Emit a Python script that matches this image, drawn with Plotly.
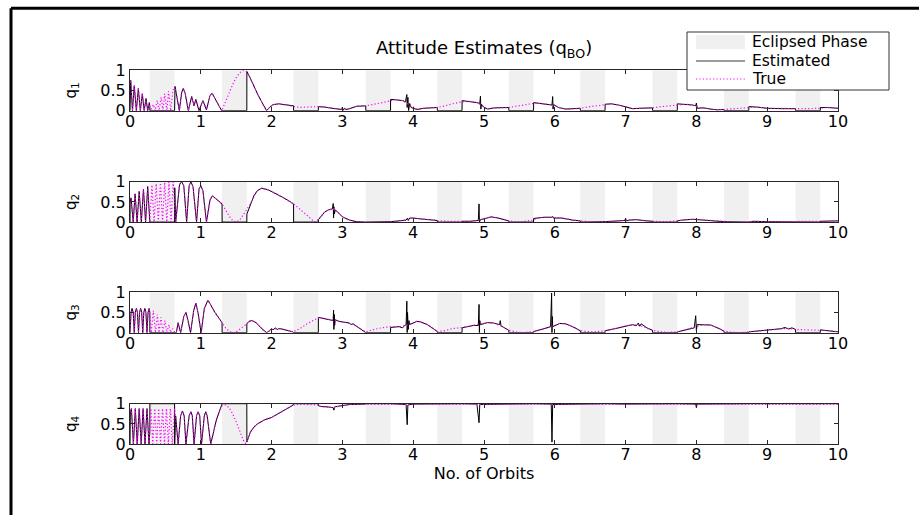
import plotly.graph_objects as go

# ---------------- data ----------------
eclipse_start = [0.28, 1.30, 2.31, 3.33, 4.34, 5.35, 6.36, 7.38, 8.39, 9.40]
eclipse_end = [0.63, 1.65, 2.66, 3.68, 4.69, 5.70, 6.71, 7.73, 8.74, 9.75]
x_ticks = [0, 1, 2, 3, 4, 5, 6, 7, 8, 9, 10]
y_ticks = [0, 0.5, 1]
y_labels = ["q<sub>1</sub>", "q<sub>2</sub>", "q<sub>3</sub>", "q<sub>4</sub>"]

q1_true = [(0.0,0.70),(0.01,0.75),(0.035,0.0),(0.06,0.62),(0.09,0.0),(0.118,0.55),(0.146,0.0),(0.174,0.42),(0.2,0.0),(0.226,0.3),(0.25,0.0),(0.273,0.2),(0.29,0.0),
    (0.33,0.15),(0.355,0.0),(0.385,0.25),(0.41,0.0),(0.44,0.33),(0.465,0.0),(0.49,0.42),(0.52,0.0),(0.545,0.48),(0.575,0.0),(0.605,0.5),(0.636,0.6),(0.697,0.0),
    (0.73,0.45),(0.753,0.55),(0.78,0.42),(0.824,0.0),(0.871,0.35),(0.905,0.12),(0.93,0.28),(0.975,0.0),(1.03,0.25),(1.08,0.02),(1.13,0.38),(1.16,0.43),(1.20,0.3),(1.295,0.0),
    (1.35,0.22),(1.40,0.45),(1.45,0.65),(1.50,0.82),(1.55,0.94),(1.60,1.0),(1.65,0.97),
    (1.70,0.8),(1.75,0.6),(1.80,0.42),(1.85,0.25),(1.90,0.08),(1.93,0.0),(1.97,0.08),(2.02,0.15),(2.10,0.17),(2.20,0.14),(2.31,0.11),
    (2.4,0.08),(2.5,0.09),(2.6,0.1),(2.66,0.1),(2.75,0.09),(2.85,0.06),(2.95,0.04),(3.05,0.04),(3.1,0.05),(3.2,0.11),(3.33,0.12),
    (3.45,0.16),(3.55,0.2),(3.68,0.26),(3.75,0.27),(3.85,0.25),(3.95,0.15),(4.05,0.04),(4.2,0.07),(4.34,0.08),
    (4.45,0.12),(4.55,0.17),(4.69,0.22),(4.8,0.23),(4.9,0.2),(5.0,0.1),(5.05,0.05),(5.15,0.07),(5.35,0.08),
    (5.45,0.11),(5.55,0.14),(5.70,0.18),(5.8,0.18),(5.9,0.16),(6.0,0.12),(6.1,0.06),(6.2,0.04),(6.36,0.06),
    (6.5,0.1),(6.71,0.15),(6.8,0.17),(6.9,0.14),(7.0,0.09),(7.1,0.05),(7.2,0.06),(7.38,0.07),
    (7.5,0.1),(7.73,0.15),(7.85,0.16),(7.95,0.14),(8.05,0.08),(8.2,0.04),(8.3,0.02),(8.39,0.03),
    (8.55,0.05),(8.74,0.08),(8.85,0.09),(9.0,0.06),(9.2,0.05),(9.4,0.05),(9.55,0.05),(9.75,0.06),(9.85,0.08),(10.0,0.06)]

q1_est = [(0.0,0.0),(0.005,0.72),(0.01,0.75),(0.035,0.0),(0.06,0.62),(0.09,0.0),(0.118,0.55),(0.146,0.0),(0.174,0.42),(0.2,0.0),(0.226,0.3),(0.25,0.0),(0.273,0.2),(0.28,0.1),(0.281,0.0),
    (0.63,0.0),(0.632,0.58),(0.636,0.6),(0.697,0.0),(0.73,0.45),(0.753,0.55),(0.78,0.42),(0.824,0.0),(0.871,0.35),(0.905,0.12),(0.93,0.28),(0.975,0.0),(1.03,0.25),(1.08,0.02),(1.13,0.38),(1.16,0.43),(1.20,0.3),(1.295,0.0),
    (1.65,0.0),(1.651,0.97),(1.70,0.8),(1.75,0.6),(1.80,0.42),(1.85,0.25),(1.90,0.08),(1.93,0.0),(1.97,0.08),(2.02,0.15),(2.10,0.17),(2.20,0.14),(2.31,0.12),(2.311,0.0),
    (2.66,0.0),(2.661,0.1),(2.75,0.09),(2.85,0.06),(2.9,0.05),(2.95,0.04),(2.99,0.03),(3.0,0.09),(3.01,0.01),(3.03,0.06),(3.05,0.03),(3.1,0.05),(3.2,0.11),(3.33,0.12),(3.331,0.0),
    (3.68,0.0),(3.681,0.28),(3.75,0.27),(3.85,0.25),(3.89,0.22),(3.90,0.32),(3.91,0.40),(3.915,0.08),(3.925,0.33),(3.935,0.0),(3.95,0.18),(3.97,0.08),(4.0,0.06),(4.05,0.03),(4.15,0.06),(4.25,0.08),(4.34,0.08),(4.341,0.0),
    (4.69,0.0),(4.691,0.25),(4.8,0.23),(4.9,0.2),(4.94,0.18),(4.95,0.36),(4.955,0.04),(4.965,0.16),(5.0,0.08),(5.05,0.04),(5.15,0.07),(5.35,0.08),(5.351,0.0),
    (5.70,0.0),(5.701,0.2),(5.8,0.18),(5.9,0.16),(5.96,0.14),(5.97,0.35),(5.975,0.04),(5.985,0.15),(6.05,0.08),(6.15,0.04),(6.36,0.06),(6.361,0.0),
    (6.71,0.0),(6.711,0.16),(6.8,0.17),(6.9,0.14),(7.0,0.09),(7.1,0.05),(7.2,0.06),(7.38,0.07),(7.381,0.0),
    (7.73,0.0),(7.731,0.17),(7.85,0.16),(7.95,0.14),(7.99,0.12),(8.0,0.19),(8.01,0.06),(8.1,0.07),(8.2,0.04),(8.3,0.02),(8.39,0.03),(8.391,0.0),
    (8.74,0.0),(8.741,0.1),(8.85,0.09),(9.0,0.06),(9.2,0.05),(9.4,0.05),(9.401,0.0),
    (9.75,0.0),(9.751,0.08),(9.85,0.08),(10.0,0.06)]

q2_true = [(0.0,0.5),(0.015,0.6),(0.045,0.0),(0.072,0.7),(0.1,0.0),(0.13,0.76),(0.16,0.0),(0.19,0.82),(0.22,0.0),(0.25,0.88),(0.28,0.0),
    (0.31,0.92),(0.34,0.0),(0.37,0.95),(0.40,0.0),(0.43,0.97),(0.46,0.0),(0.49,0.98),(0.52,0.0),(0.55,0.99),(0.58,0.0),(0.61,1.0),(0.645,0.0),
    (0.70,0.93),(0.73,1.0),(0.76,0.9),(0.80,0.0),(0.835,0.9),(0.86,1.0),(0.89,0.88),(0.94,0.0),(0.975,0.82),(1.0,0.9),(1.03,0.78),(1.08,0.0),(1.13,0.55),(1.165,0.65),(1.23,0.55),(1.30,0.45),
    (1.35,0.3),(1.40,0.15),(1.45,0.04),(1.50,0.0),(1.55,0.05),(1.60,0.18),(1.65,0.3),
    (1.70,0.45),(1.75,0.65),(1.80,0.78),(1.86,0.84),(1.95,0.8),(2.05,0.72),(2.15,0.62),(2.25,0.52),(2.31,0.45),
    (2.4,0.32),(2.5,0.18),(2.57,0.06),(2.6,0.0),(2.66,0.06),(2.7,0.15),(2.75,0.25),(2.8,0.3),(2.87,0.33),(2.95,0.22),(3.0,0.13),(3.1,0.05),(3.2,0.01),(3.33,0.0),
    (3.5,0.0),(3.68,0.01),(3.8,0.03),(3.9,0.05),(3.95,0.09),(4.0,0.1),(4.1,0.08),(4.2,0.06),(4.34,0.04),
    (4.5,0.02),(4.69,0.02),(4.8,0.02),(4.9,0.04),(5.0,0.08),(5.1,0.13),(5.2,0.1),(5.3,0.05),(5.35,0.03),
    (5.5,0.0),(5.70,0.05),(5.75,0.1),(5.85,0.12),(5.97,0.12),(6.1,0.1),(6.25,0.05),(6.36,0.03),
    (6.5,0.01),(6.71,0.01),(6.8,0.02),(6.95,0.04),(7.05,0.05),(7.15,0.06),(7.3,0.03),(7.38,0.02),
    (7.55,0.01),(7.73,0.03),(7.8,0.05),(7.95,0.07),(8.1,0.05),(8.3,0.02),(8.39,0.01),
    (8.55,0.0),(8.74,0.01),(8.8,0.02),(9.0,0.01),(9.4,0.01),(9.6,0.01),(9.75,0.02),(9.8,0.02),(10.0,0.03)]

q2_est = [(0.0,0.0),(0.002,0.5),(0.015,0.6),(0.045,0.0),(0.072,0.7),(0.1,0.0),(0.13,0.76),(0.16,0.0),(0.19,0.82),(0.22,0.0),(0.25,0.88),(0.275,0.1),(0.28,0.0),
    (0.63,0.0),(0.632,0.85),(0.645,0.0),(0.70,0.93),(0.73,1.0),(0.76,0.9),(0.80,0.0),(0.835,0.9),(0.86,1.0),(0.89,0.88),(0.94,0.0),(0.975,0.82),(1.0,0.9),(1.03,0.78),(1.08,0.0),(1.13,0.55),(1.165,0.65),(1.23,0.55),(1.30,0.45),(1.301,0.0),
    (1.65,0.0),(1.651,0.2),(1.70,0.45),(1.75,0.65),(1.80,0.78),(1.86,0.84),(1.95,0.8),(2.05,0.72),(2.15,0.62),(2.25,0.52),(2.31,0.45),(2.311,0.0),
    (2.66,0.0),(2.661,0.06),(2.7,0.15),(2.75,0.25),(2.8,0.3),(2.86,0.33),(2.87,0.46),(2.875,0.1),(2.88,0.38),(2.885,0.2),(2.9,0.3),(2.95,0.22),(3.0,0.13),(3.1,0.05),(3.2,0.01),(3.33,0.0),
    (3.68,0.0),(3.681,0.01),(3.8,0.03),(3.9,0.05),(3.92,0.1),(3.93,0.04),(3.95,0.1),(4.0,0.1),(4.1,0.08),(4.2,0.06),(4.34,0.04),(4.341,0.0),
    (4.69,0.0),(4.691,0.02),(4.8,0.02),(4.92,0.04),(4.93,0.45),(4.935,0.0),(4.95,0.06),(5.0,0.08),(5.1,0.13),(5.2,0.1),(5.3,0.05),(5.35,0.03),(5.351,0.0),
    (5.70,0.0),(5.701,0.09),(5.85,0.12),(5.96,0.12),(5.97,0.14),(5.98,0.1),(6.1,0.1),(6.25,0.05),(6.36,0.03),(6.361,0.0),
    (6.71,0.0),(6.711,0.01),(6.8,0.02),(6.95,0.04),(6.99,0.04),(7.0,0.1),(7.01,0.03),(7.05,0.05),(7.15,0.06),(7.3,0.03),(7.38,0.02),(7.381,0.0),
    (7.73,0.0),(7.731,0.03),(7.8,0.05),(7.95,0.07),(8.1,0.05),(8.3,0.02),(8.39,0.01),
    (8.74,0.0),(8.8,0.02),(9.0,0.01),(9.4,0.01),(9.401,0.0),
    (9.75,0.0),(9.751,0.02),(9.8,0.02),(10.0,0.03)]

q3_true = [(0.0,0.0),(0.015,0.5),(0.03,0.6),(0.045,0.5),(0.06,0.0),(0.075,0.5),(0.09,0.6),(0.105,0.5),(0.12,0.0),(0.135,0.5),(0.15,0.6),(0.165,0.5),(0.18,0.0),(0.195,0.5),(0.21,0.6),(0.225,0.5),(0.24,0.0),(0.255,0.5),(0.27,0.6),(0.29,0.3),(0.30,0.0),
    (0.33,0.55),(0.36,0.0),(0.386,0.45),(0.41,0.0),(0.438,0.38),(0.465,0.0),(0.494,0.3),(0.52,0.0),(0.55,0.2),(0.575,0.0),(0.60,0.1),(0.63,0.02),
    (0.655,0.0),(0.68,0.25),(0.715,0.0),(0.76,0.4),(0.79,0.5),(0.82,0.3),(0.855,0.0),(0.9,0.55),(0.93,0.73),(0.96,0.5),(1.005,0.0),(1.05,0.6),(1.10,0.8),(1.13,0.72),(1.2,0.5),(1.26,0.35),(1.30,0.25),
    (1.35,0.12),(1.4,0.03),(1.45,0.0),(1.5,0.02),(1.55,0.08),(1.6,0.15),(1.65,0.22),
    (1.68,0.28),(1.72,0.3),(1.78,0.25),(1.85,0.12),(1.9,0.03),(1.93,0.0),(1.97,0.05),(2.02,0.09),(2.1,0.1),(2.2,0.07),(2.3,0.02),
    (2.4,0.1),(2.5,0.22),(2.6,0.32),(2.66,0.37),(2.75,0.35),(2.85,0.32),(2.95,0.28),(3.05,0.25),(3.15,0.2),(3.25,0.1),(3.33,0.02),
    (3.45,0.08),(3.55,0.12),(3.68,0.15),(3.8,0.15),(3.9,0.18),(4.0,0.25),(4.05,0.28),(4.1,0.27),(4.2,0.2),(4.3,0.08),(4.34,0.03),
    (4.45,0.05),(4.55,0.1),(4.69,0.13),(4.85,0.18),(4.95,0.2),(5.05,0.25),(5.13,0.24),(5.25,0.16),(5.35,0.06),
    (5.45,0.02),(5.55,0.0),(5.70,0.03),(5.85,0.1),(5.95,0.15),(6.07,0.23),(6.15,0.22),(6.25,0.15),(6.36,0.05),
    (6.45,0.03),(6.55,0.02),(6.71,0.05),(6.8,0.08),(6.9,0.12),(7.0,0.17),(7.1,0.2),(7.2,0.18),(7.3,0.12),(7.38,0.06),
    (7.5,0.02),(7.6,0.01),(7.73,0.02),(7.8,0.05),(7.9,0.1),(8.0,0.15),(8.1,0.2),(8.2,0.19),(8.3,0.12),(8.39,0.04),
    (8.5,0.01),(8.6,0.0),(8.74,0.02),(8.8,0.03),(9.0,0.07),(9.2,0.1),(9.3,0.11),(9.4,0.08),(9.55,0.07),(9.75,0.07),(9.8,0.06),(9.9,0.05),(10.0,0.02)]

q3_est = [(0.0,0.0),(0.015,0.5),(0.03,0.6),(0.045,0.5),(0.06,0.0),(0.075,0.5),(0.09,0.6),(0.105,0.5),(0.12,0.0),(0.135,0.5),(0.15,0.6),(0.165,0.5),(0.18,0.0),(0.195,0.5),(0.21,0.6),(0.225,0.5),(0.24,0.0),(0.255,0.5),(0.27,0.6),(0.28,0.5),(0.281,0.0),
    (0.63,0.0),(0.655,0.0),(0.68,0.25),(0.715,0.0),(0.76,0.4),(0.79,0.5),(0.82,0.3),(0.855,0.0),(0.9,0.55),(0.93,0.73),(0.96,0.5),(1.005,0.0),(1.05,0.6),(1.10,0.8),(1.13,0.72),(1.2,0.5),(1.26,0.35),(1.30,0.25),(1.301,0.0),
    (1.65,0.0),(1.651,0.22),(1.68,0.28),(1.72,0.3),(1.78,0.25),(1.85,0.12),(1.9,0.03),(1.93,0.0),(1.97,0.05),(2.0,0.1),(2.02,0.07),(2.05,0.12),(2.08,0.08),(2.1,0.1),(2.15,0.09),(2.2,0.07),(2.3,0.02),(2.31,0.0),
    (2.66,0.0),(2.661,0.38),(2.75,0.35),(2.85,0.32),(2.87,0.3),(2.875,0.56),(2.88,0.08),(2.885,0.45),(2.89,0.18),(2.9,0.32),(2.95,0.28),(3.05,0.25),(3.1,0.24),(3.12,0.2),(3.15,0.22),(3.25,0.1),(3.33,0.02),(3.331,0.0),
    (3.68,0.0),(3.681,0.13),(3.8,0.15),(3.85,0.12),(3.88,0.18),(3.9,0.2),(3.91,0.78),(3.915,0.0),(3.92,0.5),(3.93,0.08),(3.94,0.3),(3.95,0.2),(4.0,0.25),(4.05,0.28),(4.1,0.27),(4.2,0.2),(4.3,0.08),(4.34,0.03),(4.341,0.0),
    (4.69,0.0),(4.691,0.12),(4.85,0.18),(4.92,0.18),(4.93,0.7),(4.935,0.0),(4.94,0.3),(4.95,0.2),(5.05,0.25),(5.13,0.24),(5.22,0.2),(5.23,0.3),(5.24,0.17),(5.35,0.06),(5.351,0.0),
    (5.70,0.0),(5.701,0.03),(5.85,0.1),(5.94,0.15),(5.955,0.98),(5.96,0.0),(5.965,0.4),(5.97,0.15),(6.07,0.23),(6.15,0.22),(6.25,0.15),(6.36,0.05),(6.361,0.0),
    (6.71,0.0),(6.711,0.05),(6.8,0.08),(6.9,0.12),(7.0,0.17),(7.1,0.2),(7.15,0.17),(7.18,0.24),(7.2,0.16),(7.22,0.22),(7.3,0.12),(7.38,0.06),(7.381,0.0),
    (7.73,0.0),(7.731,0.02),(7.8,0.05),(7.9,0.1),(7.97,0.12),(7.99,0.42),(8.0,0.05),(8.01,0.2),(8.1,0.2),(8.2,0.19),(8.3,0.12),(8.39,0.04),(8.391,0.0),
    (8.74,0.0),(8.741,0.02),(8.8,0.03),(9.0,0.07),(9.2,0.1),(9.25,0.13),(9.3,0.09),(9.35,0.12),(9.4,0.08),(9.401,0.0),
    (9.75,0.0),(9.751,0.07),(9.8,0.06),(9.9,0.05),(10.0,0.02)]

q4_true = [(0.0,0.8),(0.02,0.88),(0.048,0.0),(0.075,0.88),(0.102,0.0),(0.13,0.88),(0.158,0.0),(0.185,0.88),(0.212,0.0),(0.24,0.88),(0.268,0.0),
    (0.295,0.88),(0.322,0.0),(0.35,0.88),(0.377,0.0),(0.405,0.88),(0.432,0.0),(0.46,0.88),(0.487,0.0),(0.515,0.88),(0.542,0.0),(0.57,0.88),(0.597,0.0),(0.63,0.88),
    (0.68,0.0),(0.715,0.7),(0.74,0.82),(0.765,0.7),(0.79,0.0),(0.835,0.7),(0.86,0.8),(0.88,0.7),(0.905,0.0),(0.94,0.7),(0.96,0.8),(0.985,0.7),(1.01,0.0),(1.05,0.7),(1.07,0.8),(1.09,0.7),(1.14,0.0),(1.22,0.6),(1.30,0.95),
    (1.35,0.97),(1.4,0.9),(1.45,0.75),(1.5,0.55),(1.55,0.32),(1.6,0.1),(1.63,0.02),(1.65,0.05),
    (1.7,0.3),(1.75,0.42),(1.8,0.5),(1.9,0.6),(2.0,0.66),(2.1,0.76),(2.2,0.87),(2.3,0.96),(2.4,0.985),(2.5,0.985),(2.66,0.97),
    (2.7,0.93),(2.8,0.92),(2.88,0.9),(2.95,0.94),(3.1,0.98),(3.33,0.985),(3.68,0.985),(4.0,0.985),(4.34,0.985),(5.0,0.985),
    (6.0,0.985),(7.0,0.985),(8.0,0.985),(9.0,0.985),(10.0,0.985)]

q4_est = [(0.0,0.0),(0.005,0.8),(0.02,0.88),(0.048,0.0),(0.075,0.88),(0.102,0.0),(0.13,0.88),(0.158,0.0),(0.185,0.88),(0.212,0.0),(0.24,0.88),(0.268,0.0),(0.28,0.3),(0.281,1.0),
    (0.63,1.0),(0.631,0.0),(0.645,0.7),(0.68,0.0),(0.715,0.7),(0.74,0.82),(0.765,0.7),(0.79,0.0),(0.835,0.7),(0.86,0.8),(0.88,0.7),(0.905,0.0),(0.94,0.7),(0.96,0.8),(0.985,0.7),(1.01,0.0),(1.05,0.7),(1.07,0.8),(1.09,0.7),(1.14,0.0),(1.22,0.6),(1.30,0.95),(1.301,1.0),
    (1.65,1.0),(1.651,0.05),(1.7,0.3),(1.75,0.42),(1.8,0.5),(1.9,0.6),(2.0,0.66),(2.1,0.76),(2.2,0.87),(2.3,0.96),(2.31,1.0),
    (2.66,1.0),(2.661,0.95),(2.7,0.93),(2.8,0.92),(2.87,0.9),(2.88,0.84),(2.89,0.92),(2.95,0.94),(3.1,0.98),(3.33,0.99),(3.331,1.0),
    (3.68,1.0),(3.8,0.99),(3.9,0.98),(3.915,0.48),(3.925,0.97),(4.0,0.99),(4.34,1.0),
    (4.69,1.0),(4.9,0.99),(4.93,0.53),(4.94,0.98),(5.35,1.0),
    (5.70,1.0),(5.95,0.99),(5.96,0.05),(5.97,0.98),(6.36,1.0),
    (6.71,1.0),(7.0,0.99),(7.38,1.0),(7.73,1.0),(7.99,0.99),(8.0,0.9),(8.01,0.99),(8.39,1.0),(8.74,1.0),(10.0,1.0)]

series_true = [q1_true, q2_true, q3_true, q4_true]
series_est = [q1_est, q2_est, q3_est, q4_est]

# ---------------- figure ----------------
W, H = 919, 515
ML, MR = 130, 81
PW = W - ML - MR
FONT = "DejaVu Sans"
plot_tops = [70.3, 181.7, 292.3, 403.7]
plot_h = 40.4

def px_x(px):
    return (px - ML) / PW

def px_y(py):
    return 1 - py / H

fig = go.Figure()
layout_axes = {}
for i in range(4):
    n = "" if i == 0 else str(i + 1)
    xa, ya = "x" + n, "y" + n
    widths = [e - s for s, e in zip(eclipse_start, eclipse_end)]
    centers = [(s + e) / 2 for s, e in zip(eclipse_start, eclipse_end)]
    fig.add_trace(go.Bar(x=centers, y=[1] * len(centers), width=widths, base=0,
                         marker=dict(color="#f0f0f0", line=dict(width=0)),
                         xaxis=xa, yaxis=ya, showlegend=False, hoverinfo="skip"))
    ex, ey = zip(*series_est[i])
    fig.add_trace(go.Scatter(x=ex, y=ey, mode="lines", line=dict(color="black", width=1),
                             xaxis=xa, yaxis=ya, showlegend=False, name="Estimated"))
    tx, ty = zip(*series_true[i])
    fig.add_trace(go.Scatter(x=tx, y=ty, mode="lines",
                             line=dict(color="#ff00ff", width=1.2, dash="1.2px,2.2px"),
                             xaxis=xa, yaxis=ya, showlegend=False, name="True"))
    top = plot_tops[i]
    dom = [px_y(top + plot_h), px_y(top)]
    common = dict(showline=True, linecolor="#262626", linewidth=1, mirror="ticks",
                  ticks="inside", ticklen=4, tickcolor="#262626", showgrid=False,
                  zeroline=False, tickfont=dict(family=FONT, size=16, color="black"),
                  automargin=False, fixedrange=True)
    layout_axes["xaxis" + n] = dict(domain=[0, 1], anchor=ya, range=[0, 10],
                                    tickvals=x_ticks, ticklabelstandoff=-4, **common)
    layout_axes["yaxis" + n] = dict(domain=dom, anchor=xa, range=[0, 1], tickvals=y_ticks,
                                    title=dict(text=y_labels[i], standoff=20,
                                               font=dict(family=FONT, size=15, color="black")),
                                    **common)

layout_axes["xaxis4"]["title"] = dict(text="No. of Orbits", standoff=2,
                                      font=dict(family=FONT, size=16, color="black"))

shapes = [
    # outer frame (top and left edges visible)
    dict(type="line", xref="paper", yref="paper", x0=px_x(11), x1=px_x(940), y0=px_y(8.3), y1=px_y(8.3),
         line=dict(color="black", width=3)),
    dict(type="line", xref="paper", yref="paper", x0=px_x(11), x1=px_x(11), y0=px_y(8.3), y1=px_y(540),
         line=dict(color="black", width=3)),
    # legend box
    dict(type="rect", xref="paper", yref="paper", x0=px_x(687), x1=px_x(889), y0=px_y(90), y1=px_y(32),
         line=dict(color="#333333", width=1), fillcolor="white", layer="above"),
    dict(type="rect", xref="paper", yref="paper", x0=px_x(696), x1=px_x(745), y0=px_y(49.3), y1=px_y(35),
         line=dict(width=0), fillcolor="#f0f0f0", layer="above"),
    dict(type="line", xref="paper", yref="paper", x0=px_x(696), x1=px_x(745), y0=px_y(61), y1=px_y(61),
         line=dict(color="#7a7a7a", width=1.5), layer="above"),
    dict(type="line", xref="paper", yref="paper", x0=px_x(696), x1=px_x(745), y0=px_y(79), y1=px_y(79),
         line=dict(color="#ff00ff", width=1.2, dash="1.2px,2.2px"), layer="above"),
]

legend_texts = ["Eclipsed Phase", "Estimated", "True"]
legend_ys = [42.5, 61, 79]
annotations = [dict(text="Attitude Estimates (q<sub>BO</sub>)", xref="paper", yref="paper",
                    x=0.5, y=px_y(49), xanchor="center", yanchor="middle", showarrow=False,
                    font=dict(family=FONT, size=18, color="black"))]
for t, yy in zip(legend_texts, legend_ys):
    annotations.append(dict(text=t, xref="paper", yref="paper", x=px_x(750), y=px_y(yy),
                            xanchor="left", yanchor="middle", showarrow=False,
                            font=dict(family=FONT, size=15.5, color="black")))

fig.update_layout(width=W, height=H, margin=dict(l=ML, r=MR, t=0, b=0, autoexpand=False),
                  paper_bgcolor="white", plot_bgcolor="white", showlegend=False,
                  barmode="overlay", shapes=shapes, annotations=annotations,
                  font=dict(family=FONT, color="black"), **layout_axes)

fig.write_html("out.html", config={"displayModeBar": False})
